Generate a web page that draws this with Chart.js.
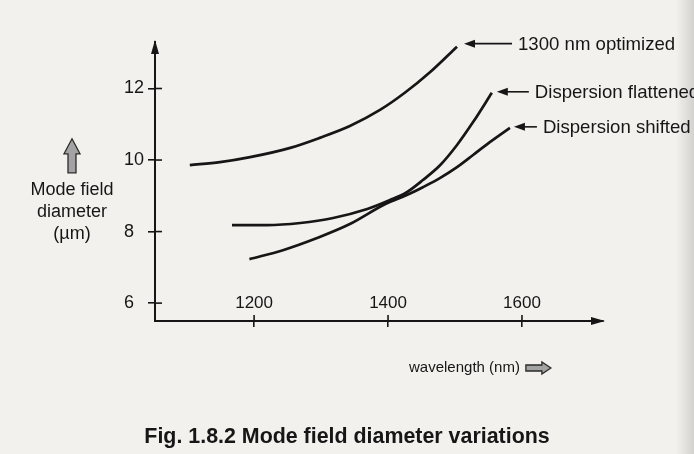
<!DOCTYPE html>
<html>
<head>
<meta charset="utf-8">
<script src="https://cdn.jsdelivr.net/npm/chart.js@4/dist/chart.umd.min.js"></script>
<style>
  html, body { margin: 0; padding: 0; background: #f2f1ee; }
  #c { display: block; }
</style>
</head>
<body>
<canvas id="c" width="694" height="454"></canvas>
<script>
// ---- data ----
const seriesNames = ['1300 nm optimized', 'Dispersion flattened', 'Dispersion shifted'];
const optimizedWl  = [1104, 1149, 1194, 1254, 1298, 1343, 1388, 1425, 1463, 1503];
const optimizedMfd = [9.86, 9.94, 10.08, 10.34, 10.62, 10.95, 11.40, 11.88, 12.46, 13.17];
const flattenedWl  = [1167, 1219, 1269, 1318, 1369, 1403, 1428, 1452, 1478, 1503, 1527, 1555];
const flattenedMfd = [8.18, 8.18, 8.24, 8.38, 8.63, 8.88, 9.10, 9.44, 9.86, 10.42, 11.06, 11.88];
const shiftedWl    = [1193, 1243, 1294, 1343, 1396, 1428, 1452, 1478, 1503, 1527, 1552, 1582];
const shiftedMfd   = [7.23, 7.48, 7.82, 8.21, 8.77, 9.02, 9.24, 9.50, 9.80, 10.14, 10.50, 10.90];
const xTicks = [1200, 1400, 1600];
const yTicks = [6, 8, 10, 12];
const yTitleLines = ['Mode field', 'diameter', '(\u00b5m)'];
const xTitle = 'wavelength (nm)';
const caption = 'Fig. 1.8.2 Mode field diameter variations';

const INK = '#161616';
const FONT = '"Liberation Sans", Arial, sans-serif';

function pts(xs, ys) { return xs.map((x, i) => ({ x: x, y: ys[i] })); }

function blockArrow(ctx, dir, tipX, tipY, len, headLen, headHalf, shaftHalf) {
  ctx.save();
  ctx.translate(tipX, tipY);
  if (dir === 'right') ctx.rotate(Math.PI / 2);
  ctx.beginPath();
  ctx.moveTo(0, 0);
  ctx.lineTo(headHalf, headLen);
  ctx.lineTo(shaftHalf, headLen);
  ctx.lineTo(shaftHalf, len);
  ctx.lineTo(-shaftHalf, len);
  ctx.lineTo(-shaftHalf, headLen);
  ctx.lineTo(-headHalf, headLen);
  ctx.closePath();
  ctx.fillStyle = '#a3a3a3';
  ctx.fill();
  ctx.lineWidth = 1.3;
  ctx.strokeStyle = '#2a2a2a';
  ctx.stroke();
  ctx.restore();
}

function lineArrow(ctx, x0, y0, x1, y1) {
  ctx.save();
  ctx.strokeStyle = INK;
  ctx.fillStyle = INK;
  ctx.lineWidth = 1.6;
  ctx.beginPath();
  ctx.moveTo(x0, y0);
  ctx.lineTo(x1 + 8, y1);
  ctx.stroke();
  ctx.beginPath();
  ctx.moveTo(x1, y1);
  ctx.lineTo(x1 + 11, y1 - 4);
  ctx.lineTo(x1 + 11, y1 + 4);
  ctx.closePath();
  ctx.fill();
  ctx.restore();
}

const decor = {
  id: 'decor',
  beforeDraw(chart) {
    const ctx = chart.ctx;
    ctx.save();
    ctx.fillStyle = '#f2f1ee';
    ctx.fillRect(0, 0, chart.width, chart.height);
    const g = ctx.createLinearGradient(676, 0, 694, 0);
    g.addColorStop(0, 'rgba(0,0,0,0)');
    g.addColorStop(1, 'rgba(0,0,0,0.13)');
    ctx.fillStyle = g;
    ctx.fillRect(676, 0, 18, chart.height);
    ctx.restore();
  },
  afterDraw(chart) {
    const ctx = chart.ctx;
    const a = chart.chartArea;
    const xs = chart.scales.x, ys = chart.scales.y;
    ctx.save();
    ctx.strokeStyle = INK;
    ctx.fillStyle = INK;
    // inner halves of tick marks (ticks cross the axes)
    ctx.lineWidth = 1.6;
    xs.ticks.forEach(t => {
      const px = xs.getPixelForValue(t.value);
      ctx.beginPath(); ctx.moveTo(px, a.bottom); ctx.lineTo(px, a.bottom - 6); ctx.stroke();
    });
    ys.ticks.forEach(t => {
      const py = ys.getPixelForValue(t.value);
      ctx.beginPath(); ctx.moveTo(a.left, py); ctx.lineTo(a.left + 7, py); ctx.stroke();
    });
    // x tick labels sit above the axis line
    ctx.font = '17px ' + FONT;
    ctx.textAlign = 'center';
    ctx.textBaseline = 'middle';
    xs.ticks.forEach(t => {
      ctx.fillText(String(t.value), xs.getPixelForValue(t.value), a.bottom - 18);
    });
    // axis arrowheads
    ctx.beginPath();
    ctx.moveTo(a.left, a.top - 2); ctx.lineTo(a.left - 4, a.top + 12); ctx.lineTo(a.left + 4, a.top + 12);
    ctx.closePath(); ctx.fill();
    ctx.beginPath();
    ctx.moveTo(a.right + 2, a.bottom); ctx.lineTo(a.right - 12, a.bottom - 4); ctx.lineTo(a.right - 12, a.bottom + 4);
    ctx.closePath(); ctx.fill();

    // y-axis title block
    ctx.font = '18px ' + FONT;
    ctx.textAlign = 'center';
    const cy = ys.getPixelForValue(9);
    yTitleLines.forEach((t, i) => ctx.fillText(t, 72, cy - 6 + i * 22));
    blockArrow(ctx, 'up', 72, cy - 57, 34, 15, 8, 4);

    // x-axis title
    ctx.textAlign = 'left';
    ctx.font = '15px ' + FONT;
    const tx = 409;
    ctx.fillText(xTitle, tx, a.bottom + 47);
    const tw = ctx.measureText(xTitle).width;
    blockArrow(ctx, 'right', tx + tw + 31, a.bottom + 47, 25, 9, 6, 3);

    // series annotations
    const ds = chart.data.datasets;
    const gaps = [[7, -3, 48], [5, -1, 32], [4, -1, 23]];
    ctx.font = '18.6px ' + FONT;
    ds.forEach((d, i) => {
      const last = d.data[d.data.length - 1];
      const px = xs.getPixelForValue(last.x) + gaps[i][0];
      const py = ys.getPixelForValue(last.y) + gaps[i][1];
      lineArrow(ctx, px + gaps[i][2], py, px, py);
      ctx.fillStyle = INK;
      ctx.textAlign = 'left';
      ctx.fillText(seriesNames[i], px + gaps[i][2] + 6, py + 1);
    });

    // caption
    ctx.font = 'bold 21.4px ' + FONT;
    ctx.textAlign = 'center';
    ctx.fillText(caption, 347, 437);
    ctx.restore();
  }
};

const lineStyle = {
  borderColor: INK,
  borderWidth: 2.7,
  pointRadius: 0,
  fill: false,
  cubicInterpolationMode: 'monotone'
};

new Chart(document.getElementById('c'), {
  type: 'line',
  data: {
    datasets: [
      Object.assign({ label: seriesNames[0], data: pts(optimizedWl, optimizedMfd) }, lineStyle),
      Object.assign({ label: seriesNames[1], data: pts(flattenedWl, flattenedMfd) }, lineStyle),
      Object.assign({ label: seriesNames[2], data: pts(shiftedWl, shiftedMfd) }, lineStyle)
    ]
  },
  options: {
    responsive: false,
    animation: false,
    events: [],
    layout: { padding: { left: 124, top: 42, right: 91, bottom: 103 } },
    plugins: { legend: { display: false }, tooltip: { enabled: false }, title: { display: false } },
    scales: {
      x: {
        type: 'linear',
        min: 1052,
        max: 1721,
        afterBuildTicks: s => { s.ticks = xTicks.map(v => ({ value: v })); },
        afterFit: s => { s.height = 30; },
        grid: { drawOnChartArea: false, drawTicks: true, tickLength: 6, color: INK, lineWidth: 1.6 },
        border: { display: true, color: INK, width: 2 },
        ticks: { display: false }
      },
      y: {
        type: 'linear',
        min: 5.5,
        max: 13.3,
        afterBuildTicks: s => { s.ticks = yTicks.map(v => ({ value: v })); },
        afterFit: s => { s.width = 31; },
        grid: { drawOnChartArea: false, drawTicks: true, tickLength: 7, color: INK, lineWidth: 1.6 },
        border: { display: true, color: INK, width: 2 },
        ticks: { crossAlign: 'far', padding: 3, color: INK, font: { family: FONT, size: 18 } }
      }
    }
  },
  plugins: [decor]
});
</script>
</body>
</html>
